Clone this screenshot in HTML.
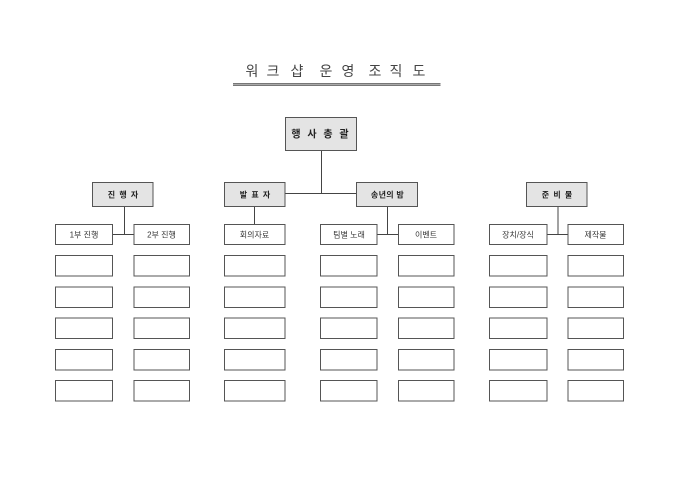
<!DOCTYPE html>
<html lang="ko"><head><meta charset="utf-8"><title>워크샵 운영 조직도</title>
<style>
html,body{margin:0;padding:0;background:#fff;width:680px;height:481px;overflow:hidden}
svg{display:block}
text{font-family:"Liberation Sans","Noto Sans CJK KR","NanumGothic",sans-serif;text-anchor:middle;fill:#333}
.h{fill:#e4e4e4;stroke:#555;stroke-width:1}
.b{fill:#fff;stroke:#555;stroke-width:1}
.l{stroke:#444;stroke-width:1;fill:none}
.t{font-size:8px}
.s{font-size:8px;font-weight:bold;fill:#222;letter-spacing:1px}
.m{font-size:14px;fill:#444}
</style></head><body>
<svg width="680" height="481" viewBox="0 0 680 481" xmlns="http://www.w3.org/2000/svg">
<text class="m" x="252 273 297" y="76">워크샵</text>
<text class="m" x="326 348" y="76">운영</text>
<text class="m" x="375 396 419" y="76">조직도</text>
<rect x="233" y="83" width="207.500" height="3" fill="#aaa"/><rect x="233" y="83" width="207.500" height="1" fill="#777"/><rect x="233" y="85" width="207.500" height="1" fill="#777"/>

<path class="l" d="M321.500 150.500V193.500M285 193.500H356.500M124.500 206V235M113 234.500H134M254.500 206V224.500M387.500 206V235M377 234.500H398.500M558 206V235M547 234.500H568"/>

<rect class="h" x="285.500" y="117.500" width="71" height="33"/>
<rect class="h" x="92.500" y="182.500" width="60.500" height="24"/>
<rect class="h" x="224.500" y="182.500" width="60.500" height="24"/>
<rect class="h" x="356.500" y="182.500" width="61" height="24"/>
<rect class="h" x="526.500" y="182.500" width="60.500" height="24"/>

<g><rect class="b" x="55.500" y="224.500" width="57" height="20"/><rect class="b" x="55.500" y="255.500" width="57" height="20.500"/><rect class="b" x="55.500" y="287" width="57" height="20.500"/><rect class="b" x="55.500" y="318" width="57" height="20.500"/><rect class="b" x="55.500" y="349.500" width="57" height="20.500"/><rect class="b" x="55.500" y="380.500" width="57" height="20.500"/></g>
<g><rect class="b" x="134" y="224.500" width="55.500" height="20"/><rect class="b" x="134" y="255.500" width="55.500" height="20.500"/><rect class="b" x="134" y="287" width="55.500" height="20.500"/><rect class="b" x="134" y="318" width="55.500" height="20.500"/><rect class="b" x="134" y="349.500" width="55.500" height="20.500"/><rect class="b" x="134" y="380.500" width="55.500" height="20.500"/></g>
<g><rect class="b" x="224.500" y="224.500" width="60.500" height="20"/><rect class="b" x="224.500" y="255.500" width="60.500" height="20.500"/><rect class="b" x="224.500" y="287" width="60.500" height="20.500"/><rect class="b" x="224.500" y="318" width="60.500" height="20.500"/><rect class="b" x="224.500" y="349.500" width="60.500" height="20.500"/><rect class="b" x="224.500" y="380.500" width="60.500" height="20.500"/></g>
<g><rect class="b" x="320.500" y="224.500" width="56.500" height="20"/><rect class="b" x="320.500" y="255.500" width="56.500" height="20.500"/><rect class="b" x="320.500" y="287" width="56.500" height="20.500"/><rect class="b" x="320.500" y="318" width="56.500" height="20.500"/><rect class="b" x="320.500" y="349.500" width="56.500" height="20.500"/><rect class="b" x="320.500" y="380.500" width="56.500" height="20.500"/></g>
<g><rect class="b" x="398.500" y="224.500" width="55.500" height="20"/><rect class="b" x="398.500" y="255.500" width="55.500" height="20.500"/><rect class="b" x="398.500" y="287" width="55.500" height="20.500"/><rect class="b" x="398.500" y="318" width="55.500" height="20.500"/><rect class="b" x="398.500" y="349.500" width="55.500" height="20.500"/><rect class="b" x="398.500" y="380.500" width="55.500" height="20.500"/></g>
<g><rect class="b" x="489.500" y="224.500" width="57.500" height="20"/><rect class="b" x="489.500" y="255.500" width="57.500" height="20.500"/><rect class="b" x="489.500" y="287" width="57.500" height="20.500"/><rect class="b" x="489.500" y="318" width="57.500" height="20.500"/><rect class="b" x="489.500" y="349.500" width="57.500" height="20.500"/><rect class="b" x="489.500" y="380.500" width="57.500" height="20.500"/></g>
<g><rect class="b" x="568" y="224.500" width="55.500" height="20"/><rect class="b" x="568" y="255.500" width="55.500" height="20.500"/><rect class="b" x="568" y="287" width="55.500" height="20.500"/><rect class="b" x="568" y="318" width="55.500" height="20.500"/><rect class="b" x="568" y="349.500" width="55.500" height="20.500"/><rect class="b" x="568" y="380.500" width="55.500" height="20.500"/></g>

<text class="s" x="321" y="137.500" style="font-size:10px;letter-spacing:2px">행 사 총 괄</text>
<text class="s" x="123.500" y="197.500">진 행 자</text>
<text class="s" x="255.500" y="197.500">발 표 자</text>
<text class="s" x="387.500" y="197.500" style="letter-spacing:.3px">송년의 밤</text>
<text class="s" x="557.500" y="197.500">준 비 물</text>

<text class="t" x="84" y="237.500">1부 진행</text>
<text class="t" x="161.500" y="237.500">2부 진행</text>
<text class="t" x="254.500" y="237.500">회의자료</text>
<text class="t" x="349" y="237.500">팀별 노래</text>
<text class="t" x="426" y="237.500">이벤트</text>
<text class="t" x="518" y="237.500">장치/장식</text>
<text class="t" x="595.500" y="237.500">제작물</text>
</svg>
</body></html>
